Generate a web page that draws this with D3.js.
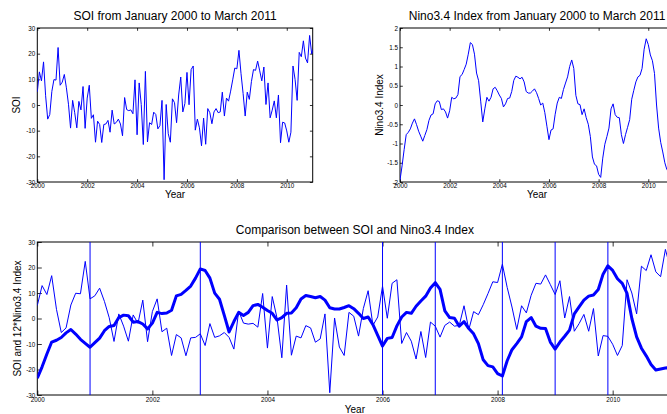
<!DOCTYPE html>
<html><head><meta charset="utf-8">
<script src="https://cdn.jsdelivr.net/npm/d3@7"></script>
<style>
body{margin:0;background:#fff;overflow:hidden}
svg{display:block}
text{font-family:"Liberation Sans",Arial,sans-serif;fill:#000}
</style>
</head><body>
<svg id="c" width="667" height="414"></svg>
<script>
// ---- data ----
const startYear = 2000;
const soi = [
  5.1, 12.9, 9.4, 16.8, 3.6, -5.5, -3.7, 5.3, 9.9, 9.7, 22.4, 7.7,
  8.9, 11.9, 6.7, 0.3, -9.0, 1.8, -3.0, -8.9, 1.4, -1.9, 7.2, -9.1,
  2.7, 7.7, -5.2, -3.8, -14.5, -6.3, -7.6, -14.6, -7.6, -7.4, -6.0, -10.6,
  -2.0, -7.4, -6.8, -5.5, -7.4, -12.0, 2.9, -1.8, -2.2, -1.9, -3.4, 9.8,
  -11.6, 8.6, 0.2, -15.4, 13.1, -14.4, -6.9, -7.6, -2.8, -3.7, -9.3, -8.0,
  1.8, -29.1, 0.2, -11.2, -14.5, 2.4, 0.9, -6.9, 3.9, 10.9, -2.7, 0.6,
  12.7, 0.1, 13.8, 15.2, -9.8, -5.5, -8.9, -15.9, -5.1, -15.3, -1.4, -3.0,
  -7.3, -2.7, -1.4, -3.0, -2.7, 5.0, -4.3, 2.7, 1.5, 5.4, 9.8, 14.4,
  14.1, 21.3, 12.2, 4.5, -4.3, 5.0, 2.2, 9.1, 13.8, 13.5, 17.1, 13.3,
  9.4, 14.8, 0.2, 8.6, -5.0, -2.0, 1.6, -5.0, 3.9, -14.7, -6.7, -7.0,
  -10.1, -14.5, -10.6, 15.2, 10.0, 1.8, 20.5, 18.8, 25.0, 18.3, 16.4, 27.1,
  19.9, 22.3, 21.4
];
const nino = [
  -1.95, -1.58, -1.16, -0.77, -0.71, -0.62, -0.47, -0.36, -0.51, -0.68, -0.81, -0.94,
  -0.79, -0.64, -0.40, -0.26, -0.23, 0.03, 0.11, 0.09, -0.12, -0.10, -0.18, -0.34,
  -0.15, 0.20, 0.16, 0.18, 0.27, 0.74, 0.79, 0.92, 1.06, 1.32, 1.62, 1.57,
  1.32, 0.83, 0.63, 0.10, -0.44, -0.10, 0.20, 0.10, 0.20, 0.42, 0.46, 0.37,
  0.26, 0.17, -0.05, 0.03, 0.17, 0.18, 0.35, 0.64, 0.75, 0.72, 0.68, 0.72,
  0.60, 0.35, 0.31, 0.31, 0.36, 0.42, 0.32, 0.17, 0.00, 0.05, -0.20, -0.55,
  -0.90, -0.65, -0.62, -0.24, 0.05, 0.20, 0.17, 0.40, 0.57, 0.73, 1.00, 1.17,
  0.95, 0.25, 0.03, 0.01, -0.25, -0.10, -0.33, -0.50, -0.82, -1.35, -1.54, -1.58,
  -1.80, -1.88, -1.38, -1.02, -0.82, -0.60, -0.10, 0.03, -0.25, -0.32, -0.33, -0.77,
  -1.00, -0.77, -0.58, -0.38, 0.15, 0.38, 0.60, 0.73, 0.77, 0.95, 1.45, 1.72,
  1.57, 1.30, 1.15, 0.82, 0.00, -0.60, -0.97, -1.22, -1.50, -1.68, -1.65, -1.62,
  -1.60, -1.40, -1.10
];
const ninoFactor = 12;
const extremaYears = [2000.917, 2002.833, 2006.0, 2006.917, 2008.083, 2009.0, 2009.917];
const xTicks = [2000, 2002, 2004, 2006, 2008, 2010];
const soiTicks = [-30, -20, -10, 0, 10, 20, 30];
const ninoTicks = [-2, -1.5, -1, -0.5, 0, 0.5, 1, 1.5, 2];
const xDomain = [2000, 2011.04];
const titles = ["SOI from January 2000 to March 2011",
                "Nino3.4 Index from January 2000 to March 2011",
                "Comparison between SOI and Nino3.4 Index"];
const yLabels = ["SOI", "Nino3.4 Index", "SOI and 12*Nino3.4 Index"];
const xLabel = "Year";

// ---- drawing ----
const svg = d3.select("#c");
const months = soi.map((_, i) => startYear + i / 12);
const soiData = soi.map((v, i) => ({t: months[i], v}));
const ninoData = nino.map((v, i) => ({t: months[i], v}));
const nino12Data = nino.map((v, i) => ({t: months[i], v: v * ninoFactor}));
const BLUE = "#0000ff";
const fmt = d => String(d);

function panel(id, box, yDomain, yTicks, tickLen, titleY, xlabY, ylabX, title, ylab, padX) {
  const x = d3.scaleLinear().domain(xDomain).range([box.x0, box.x1]);
  const y = d3.scaleLinear().domain(yDomain).range([box.y1, box.y0]);
  const g = svg.append("g");
  g.append("clipPath").attr("id", id).append("rect")
    .attr("x", box.x0).attr("y", box.y0).attr("width", box.x1 - box.x0).attr("height", box.y1 - box.y0);
  const style = sel => {
    sel.select(".domain").remove();
    sel.selectAll("line").attr("stroke", "#000").attr("stroke-width", 0.8);
    sel.selectAll("text").attr("font-size", "6.3px").attr("font-family", '"Liberation Sans",Arial,sans-serif').attr("fill", "#000");
  };
  g.append("g").attr("transform", `translate(0,${box.y1})`)
    .call(d3.axisBottom(x).tickValues(xTicks).tickSizeInner(-tickLen).tickSizeOuter(0).tickPadding(padX).tickFormat(d3.format("d"))).call(style);
  g.append("g").attr("transform", `translate(0,${box.y0})`)
    .call(d3.axisTop(x).tickValues(xTicks).tickSizeInner(-tickLen).tickSizeOuter(0).tickFormat(() => "")).call(style);
  g.append("g").attr("transform", `translate(${box.x0},0)`)
    .call(d3.axisLeft(y).tickValues(yTicks).tickSizeInner(-tickLen).tickSizeOuter(0).tickPadding(2).tickFormat(fmt)).call(style);
  g.append("g").attr("transform", `translate(${box.x1},0)`)
    .call(d3.axisRight(y).tickValues(yTicks).tickSizeInner(-tickLen).tickSizeOuter(0).tickFormat(() => "")).call(style);
  g.append("rect").attr("x", box.x0).attr("y", box.y0).attr("width", box.x1 - box.x0).attr("height", box.y1 - box.y0)
    .attr("fill", "none").attr("stroke", "#000").attr("stroke-width", 1);
  const cx = (box.x0 + box.x1) / 2, cy = (box.y0 + box.y1) / 2;
  g.append("text").attr("x", cx).attr("y", titleY).attr("text-anchor", "middle").attr("font-size", "12px").text(title);
  g.append("text").attr("x", cx).attr("y", xlabY).attr("text-anchor", "middle").attr("font-size", "10px").text(xLabel);
  g.append("text").attr("transform", `translate(${ylabX},${cy}) rotate(-90)`).attr("text-anchor", "middle").attr("font-size", "10px").text(ylab);
  const plot = g.append("g").attr("clip-path", `url(#${id})`);
  return {x, y, plot};
}

const line = (x, y) => d3.line().x(d => x(d.t)).y(d => y(d.v));

// Panel 1: SOI
const p1 = panel("clip1", {x0: 37.3, x1: 312.7, y0: 28, y1: 182}, [-30, 30], soiTicks, 2.8, 20.3, 198, 20, titles[0], yLabels[0], 2);
p1.plot.append("path").datum(soiData).attr("d", line(p1.x, p1.y)).attr("fill", "none").attr("stroke", BLUE).attr("stroke-width", 1);

// Panel 2: Nino3.4
const p2 = panel("clip2", {x0: 400, x1: 674.1, y0: 28, y1: 182}, [-2, 2], ninoTicks, 2.8, 20.3, 198, 382.5, titles[1], yLabels[1], 2);
p2.plot.append("path").datum(ninoData).attr("d", line(p2.x, p2.y)).attr("fill", "none").attr("stroke", BLUE).attr("stroke-width", 1);

// Panel 3: comparison
const p3 = panel("clip3", {x0: 37.3, x1: 672.5, y0: 242, y1: 395}, [-30, 30], soiTicks, 4.5, 233.6, 412.5, 20.5, titles[2], yLabels[2], 3);
p3.plot.append("path").datum(soiData).attr("d", line(p3.x, p3.y)).attr("fill", "none").attr("stroke", BLUE).attr("stroke-width", 1);
p3.plot.append("path").datum(nino12Data).attr("d", line(p3.x, p3.y)).attr("fill", "none").attr("stroke", BLUE).attr("stroke-width", 3).attr("stroke-linejoin", "round");
p3.plot.selectAll("line.ext").data(extremaYears).join("line").attr("class", "ext")
  .attr("x1", d => p3.x(d)).attr("x2", d => p3.x(d))
  .attr("y1", p3.y(30)).attr("y2", p3.y(-30))
  .attr("stroke", BLUE).attr("stroke-width", 1);
</script>
</body></html>
